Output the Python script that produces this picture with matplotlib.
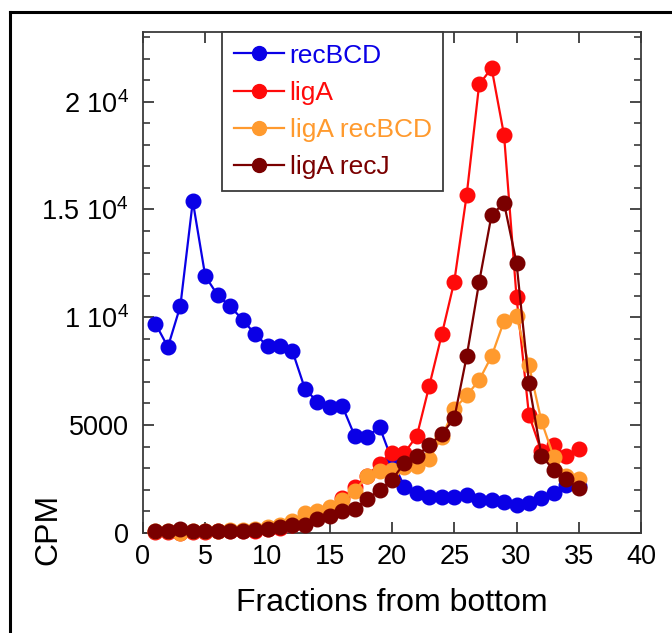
import matplotlib
matplotlib.use("Agg")
import matplotlib.pyplot as plt
from matplotlib.lines import Line2D
from matplotlib.ticker import MultipleLocator, FixedLocator

plt.rcParams['font.family'] = ['Liberation Sans', 'DejaVu Sans']
plt.rcParams['mathtext.default'] = 'regular'

fractions = list(range(1, 36))

recBCD = [9700, 8620, 10520, 15380, 11910, 11020, 10500, 9890, 9210, 8670,
          8670, 8430, 6690, 6070, 5840, 5890, 4500, 4450, 4910, 3370,
          2130, 1830, 1640, 1640, 1640, 1750, 1520, 1520, 1440, 1280,
          1360, 1590, 1830, 2210, 2150]

ligA = [50, 30, 0, 50, 50, 60, 60, 80, 100, 150,
        200, 350, 550, 800, 1160, 1590, 2100, 2640, 3200, 3720,
        3700, 4500, 6830, 9200, 11650, 15680, 20800, 21560, 18450, 10950,
        5460, 3780, 4070, 3540, 3880]

ligA_recBCD = [80, 80, 0, 100, 100, 100, 120, 130, 150, 250,
               350, 550, 930, 1000, 1200, 1500, 1950, 2620, 2850, 2900,
               3030, 3100, 3420, 4450, 5740, 6370, 7080, 8190, 9820, 10040,
               7780, 5180, 3500, 2650, 2470]

ligA_recJ = [80, 80, 150, 100, 100, 100, 100, 100, 120, 190,
             250, 370, 380, 620, 770, 1000, 1110, 1550, 1990, 2450,
             3240, 3560, 4070, 4580, 5300, 8190, 11630, 14750, 15290, 12530,
             6950, 3580, 2900, 2470, 2060]

series = [
    ("recBCD", recBCD, "#0a00e6"),
    ("ligA", ligA, "#ff0a0a"),
    ("ligA recBCD", ligA_recBCD, "#ff9a2e"),
    ("ligA recJ", ligA_recJ, "#7a0000"),
]

ytick_vals = [0, 5000, 10000, 15000, 20000]
ytick_labels = ['0', '5000', '1 10$^4$', '1.5 10$^4$', '2 10$^4$']
xtick_vals = [0, 5, 10, 15, 20, 25, 30, 35, 40]

W, H = 672, 633
fig = plt.figure(figsize=(W / 100, H / 100), dpi=100)
ax = fig.add_axes([143 / W, 1 - 532.7 / H, (641 - 143) / W, (532.7 - 31.7) / H])

for name, vals, col in series:
    ax.plot(fractions, vals, '-o', color=col, lw=1.6, ms=10.5, mec=col, mfc=col,
            label=name, clip_on=False, zorder=3)

ax.set_xlim(0, 40)
ax.set_ylim(0, 23250)
ax.xaxis.set_major_locator(FixedLocator(xtick_vals))
ax.set_xticklabels([str(v) for v in xtick_vals])
ax.yaxis.set_major_locator(FixedLocator(ytick_vals))
ax.set_yticklabels(ytick_labels)
ax.yaxis.set_minor_locator(MultipleLocator(1000))

for s in ax.spines.values():
    s.set_color('#3a3a3a')
    s.set_linewidth(1.3)

ax.tick_params(axis='both', which='major', direction='in', length=8, width=1.3,
               color='#3a3a3a', labelsize=19.5, top=True, right=True)
ax.tick_params(axis='y', which='minor', direction='in', length=5, width=1.2,
               color='#3a3a3a', right=True)
ax.tick_params(axis='y', which='major', pad=10)
ax.tick_params(axis='x', which='major', pad=8)

fig.text(392 / W, 1 - 603 / H, 'Fractions from bottom', ha='center', va='center', fontsize=23)
fig.text(48 / W, 1 - 529 / H, 'CPM', ha='center', va='center', rotation=90, fontsize=23)

leg = ax.legend(loc='upper left', bbox_to_anchor=((222.3 - 143) / 498, 1.0),
                borderaxespad=0, fontsize=19, handlelength=1.9, handletextpad=0.2,
                labelspacing=0.5, borderpad=0.45, fancybox=False, framealpha=1,
                edgecolor='#3a3a3a')
leg.get_frame().set_linewidth(1.3)
for text, (_, _, col) in zip(leg.get_texts(), series):
    text.set_color(col)
for h in leg.legend_handles:
    h.set_markersize(10)

# figure border (left and top edges)
fig.add_artist(Line2D([10 / W, 10 / W], [0, 1 - 12 / H], transform=fig.transFigure,
                      color='black', lw=2.2))
fig.add_artist(Line2D([10 / W, 1], [1 - 12 / H, 1 - 12 / H], transform=fig.transFigure,
                      color='black', lw=2.2))

fig.savefig('out.png', dpi=100)
